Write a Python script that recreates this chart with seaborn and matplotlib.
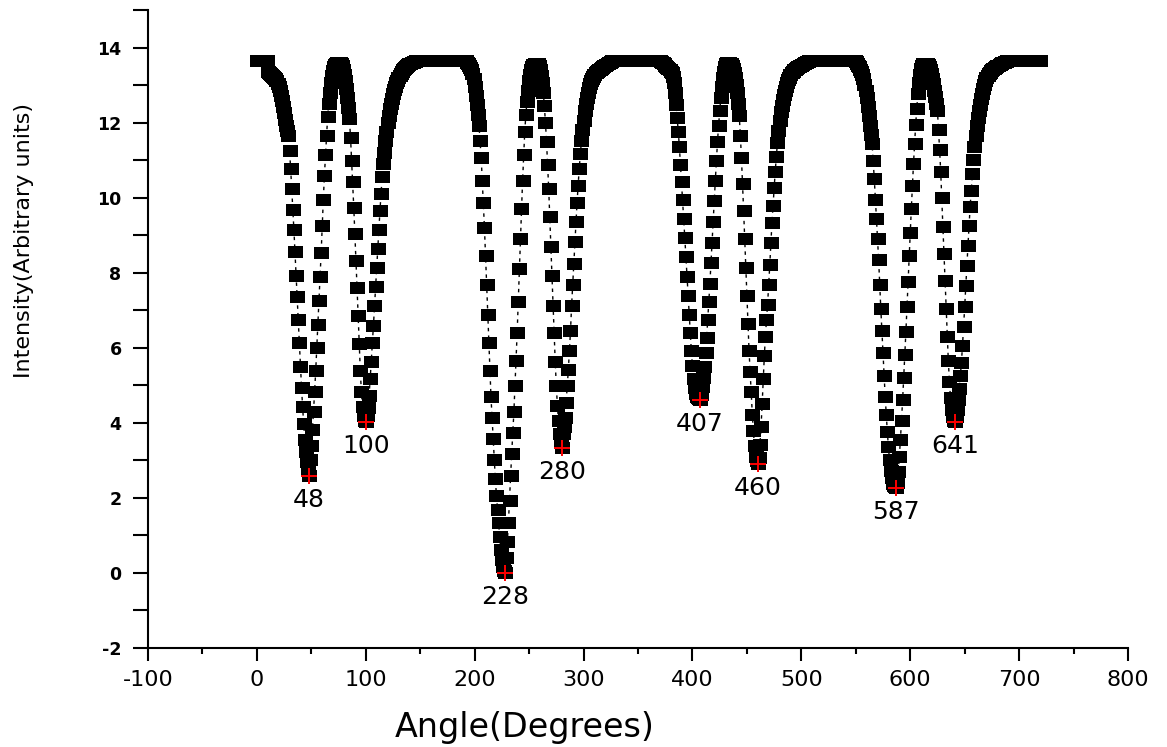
import numpy as np
import pandas as pd
import matplotlib
matplotlib.use("Agg")
import matplotlib.pyplot as plt
import seaborn as sns
from matplotlib.ticker import MultipleLocator

start_a = 0
intensity_a = [
    13.65, 13.65, 13.65, 13.65, 13.65, 13.65, 13.65, 13.65, 13.65, 13.65,  # 0-9
    13.35, 13.33, 13.30, 13.28, 13.25, 13.22, 13.19, 13.15, 13.10,  # 10-18
    13.03, 12.95, 12.85, 12.72, 12.58, 12.42, 12.25, 12.08, 11.92, 11.78,  # 19-28
    11.65, 11.25, 10.77, 10.23, 9.67, 9.14, 8.55, 7.91, 7.35, 6.73,
    6.12, 5.48, 4.94, 4.41, 3.96, 3.53, 3.21, 2.95, 2.72, 2.57,  # 29-48
    3.02, 3.37, 3.82, 4.30, 4.81, 5.37, 5.99, 6.60, 7.24, 7.88,
    8.52, 9.24, 9.94, 10.58, 11.14, 11.65, 12.16,  # 49-65
    12.50, 12.80, 13.05, 13.25, 13.38, 13.47, 13.53, 13.57, 13.59, 13.60,
    13.59, 13.56, 13.50, 13.41, 13.28, 13.10, 12.90, 12.65, 12.38,  # 66-84
    12.09, 11.60, 10.98, 10.42, 9.72, 9.03, 8.31, 7.59, 6.84, 6.09,
    5.37, 4.81, 4.42, 4.18, 4.06, 4.01,  # 85-100
    4.18, 4.40, 4.71, 5.16, 5.61, 6.12, 6.57, 7.10, 7.61, 8.12,
    8.63, 9.14, 9.64, 10.10, 10.55,  # 101-115
    10.90, 11.20, 11.50, 11.75, 11.98, 12.18, 12.35, 12.50, 12.63, 12.75,
    12.86, 12.96, 13.05, 13.12, 13.19, 13.25, 13.30, 13.35, 13.39, 13.42,
    13.45, 13.48, 13.50, 13.53, 13.55, 13.57, 13.59, 13.60, 13.61, 13.62,
    13.63, 13.64,  # 116-147
    13.65, 13.65, 13.65, 13.65, 13.65, 13.65, 13.65, 13.65, 13.65, 13.65, 13.65,
    13.65, 13.65, 13.65, 13.65, 13.65, 13.65, 13.65, 13.65, 13.65, 13.65, 13.65,
    13.65, 13.65, 13.65, 13.65, 13.65, 13.65, 13.65, 13.65, 13.65, 13.65, 13.65,
    13.65, 13.65, 13.65, 13.65, 13.65, 13.65, 13.65, 13.65, 13.65, 13.65, 13.65,  # 148-191
]

start_b = 192
intensity_b = [
    13.63, 13.60, 13.56, 13.51, 13.45, 13.40, 13.30, 13.15, 12.95, 12.72,
    12.47, 12.20,  # 192-203
    11.92, 11.51, 11.06, 10.45, 9.86, 9.19, 8.44, 7.67, 6.87, 6.12,
    5.37, 4.68, 4.12, 3.58, 3.00, 2.49, 2.06, 1.69, 1.34, 0.96,
    0.62, 0.35, 0.15, 0.04, 0.00,  # 204-228
    0.40, 0.83, 1.34, 1.93, 2.57, 3.18, 3.72, 4.28, 4.97, 5.64,
    6.39, 7.21, 8.10, 8.90, 9.70, 10.45, 11.14, 11.76, 12.21,  # 229-247
    12.55, 12.85, 13.10, 13.28, 13.40, 13.48, 13.53, 13.56, 13.57, 13.57,
    13.55, 13.50, 13.40, 13.25, 13.05, 12.80,  # 248-263
    12.45, 12.00, 11.49, 10.87, 10.23, 9.48, 8.68, 7.91, 7.11, 6.39,
    5.61, 4.97, 4.45, 4.05, 3.70, 3.45, 3.34,  # 264-280
    3.69, 3.90, 4.14, 4.54, 4.97, 5.40, 5.91, 6.44, 7.11, 7.67,
    8.23, 8.82, 9.35, 9.86, 10.31, 10.77,  # 281-296
    11.15, 11.50, 11.80, 12.05, 12.30, 12.50, 12.66, 12.80, 12.92, 13.02,
    13.10, 13.17, 13.22, 13.27, 13.31, 13.34, 13.37, 13.39, 13.41, 13.43,
    13.45, 13.47, 13.50, 13.52, 13.54, 13.56, 13.58, 13.60, 13.62, 13.63,
    13.64,  # 297-327
    13.65, 13.65, 13.65, 13.65, 13.65, 13.65, 13.65, 13.65, 13.65, 13.65, 13.65,
    13.65, 13.65, 13.65, 13.65, 13.65, 13.65, 13.65, 13.65, 13.65, 13.65, 13.65,
    13.65, 13.65, 13.65, 13.65, 13.65, 13.65, 13.65, 13.65, 13.65, 13.65, 13.65,
    13.65, 13.65, 13.65, 13.65, 13.65, 13.65, 13.65, 13.65, 13.65,  # 328-369
]

start_c = 370
intensity_c = [
    13.64, 13.62, 13.60, 13.58, 13.55, 13.52, 13.49, 13.46, 13.43, 13.40,
    13.36, 13.32, 13.22, 13.05, 12.80, 12.48, 12.12, 11.75, 11.35,  # 370-388
    10.87, 10.42, 9.94, 9.43, 8.92, 8.42, 7.88, 7.37, 6.87, 6.39,
    5.91, 5.51, 5.16, 4.92, 4.78, 4.70, 4.66, 4.63, 4.62,  # 389-407
    4.75, 4.95, 5.20, 5.50, 5.85, 6.25, 6.73, 7.21, 7.70, 8.26,
    8.79, 9.35, 9.91, 10.45, 10.98, 11.49, 11.92,  # 408-424
    12.30, 12.65, 12.95, 13.18, 13.35, 13.47, 13.55, 13.59, 13.60, 13.59,
    13.55, 13.50, 13.42, 13.32, 13.18, 13.00, 12.78, 12.50,  # 425-442
    12.18, 11.65, 11.06, 10.37, 9.65, 8.90, 8.12, 7.37, 6.63, 5.91,
    5.35, 4.81, 4.22, 3.77, 3.37, 3.10, 2.97, 2.89,  # 443-460
    3.05, 3.42, 3.90, 4.49, 5.16, 5.77, 6.30, 6.75, 7.15, 7.67,
    8.20, 8.79, 9.32, 9.78, 10.26, 10.69, 11.09,  # 461-477
    11.45, 11.78, 12.05, 12.28, 12.45, 12.60, 12.73, 12.85, 12.95, 13.05,
    13.13, 13.20, 13.27, 13.32, 13.36, 13.39, 13.41, 13.43, 13.45, 13.47,
    13.49, 13.50, 13.52, 13.54, 13.56, 13.58, 13.60, 13.61, 13.62, 13.63,
    13.64,  # 478-508
    13.65, 13.65, 13.65, 13.65, 13.65, 13.65, 13.65, 13.65, 13.65, 13.65, 13.65,
    13.65, 13.65, 13.65, 13.65, 13.65, 13.65, 13.65, 13.65, 13.65, 13.65, 13.65,
    13.65, 13.65, 13.65, 13.65, 13.65, 13.65, 13.65, 13.65, 13.65, 13.65, 13.65,
    13.65, 13.65, 13.65, 13.65, 13.65, 13.65, 13.65, 13.65,  # 509-549
]

start_d = 550
intensity_d = [
    13.62, 13.57, 13.52, 13.47, 13.41, 13.34, 13.26, 13.15, 13.01, 12.85,
    12.65, 12.42, 12.18, 11.92, 11.68,  # 550-564
    11.43, 10.98, 10.50, 9.94, 9.43, 8.90, 8.34, 7.67, 7.03, 6.44,
    5.85, 5.25, 4.70, 4.20, 3.75, 3.35, 3.00, 2.72, 2.52, 2.38,
    2.31, 2.28, 2.27,  # 565-587
    2.40, 2.70, 3.10, 3.55, 4.05, 4.60, 5.20, 5.80, 6.41, 7.08,
    7.75, 8.44, 9.06, 9.70, 10.31, 10.90, 11.43, 11.94, 12.37,  # 588-606
    12.75, 13.05, 13.28, 13.42, 13.50, 13.55, 13.57, 13.57, 13.56, 13.53,
    13.48, 13.40, 13.30, 13.17, 13.02, 12.85, 12.68, 12.50,  # 607-624
    12.32, 11.81, 11.27, 10.69, 9.99, 9.22, 8.50, 7.78, 7.03, 6.30,
    5.65, 5.10, 4.65, 4.35, 4.15, 4.05, 4.01,  # 625-641
    4.15, 4.35, 4.60, 4.90, 5.25, 5.60, 6.05, 6.55, 7.08, 7.64,
    8.18, 8.71, 9.24, 9.75, 10.18, 10.63, 11.01,  # 642-658
    11.35, 11.65, 11.90, 12.12, 12.30, 12.47, 12.62, 12.76, 12.89, 13.00,
    13.10, 13.18, 13.24, 13.29, 13.33, 13.37, 13.40, 13.42, 13.44, 13.46,
    13.48, 13.50, 13.52, 13.54, 13.56, 13.58, 13.59, 13.60, 13.61, 13.62,
    13.63, 13.64,  # 659-690
    13.65, 13.65, 13.65, 13.65, 13.65, 13.65, 13.65, 13.65, 13.65, 13.65,
    13.65, 13.65, 13.65, 13.65, 13.65, 13.65, 13.65, 13.65, 13.65, 13.65,
    13.65, 13.65, 13.65, 13.65, 13.65, 13.65, 13.65, 13.65, 13.65,  # 691-719
]

# marked minima
dip_angles = [48, 100, 228, 280, 407, 460, 587, 641]
dip_values = [2.57, 4.01, 0.00, 3.34, 4.62, 2.89, 2.27, 4.01]
dip_labels = ["48", "100", "228", "280", "407", "460", "587", "641"]

blocks = [(start_a, intensity_a), (start_b, intensity_b),
          (start_c, intensity_c), (start_d, intensity_d)]
frames = []
for start, vals in blocks:
    frames.append(pd.DataFrame({"Angle": start + np.arange(len(vals)),
                                "Intensity": vals}))
df = pd.concat(frames, ignore_index=True)
dips = pd.DataFrame({"Angle": dip_angles, "Intensity": dip_values})

sns.set_style("ticks")
plt.rcParams["font.family"] = ["DejaVu Sans"]
plt.rcParams["axes.unicode_minus"] = False
for key in ["text.color", "axes.labelcolor", "xtick.color", "ytick.color",
            "axes.edgecolor"]:
    plt.rcParams[key] = "black"

W, H = 1167, 747
fig = plt.figure(figsize=(W / 100, H / 100), dpi=100)
ax = fig.add_axes([148 / W, 1 - 648 / H, 980 / W, 638 / H])

# wide flat box marker like the original
box = [(-1.25, -1), (1.25, -1), (1.25, 1), (-1.25, 1), (-1.25, -1)]
sns.lineplot(data=df, x="Angle", y="Intensity", ax=ax, estimator=None,
             sort=False, color="black", lw=1.0, linestyle=(0, (2.5, 3)),
             marker=box, markersize=10.8, markeredgewidth=0,
             markerfacecolor="black")
sns.scatterplot(data=dips, x="Angle", y="Intensity", ax=ax, marker="+",
                color="red", s=130, linewidth=1.4, zorder=5)

for a, v, lab in zip(dip_angles, dip_values, dip_labels):
    ax.annotate(lab, (a, v), xytext=(0, -24), textcoords="offset pixels",
                ha="center", va="center", fontsize=18, color="black")

ax.set_xlim(-100, 800)
ax.set_ylim(-2, 15)
ax.xaxis.set_major_locator(MultipleLocator(100))
ax.xaxis.set_minor_locator(MultipleLocator(50))
ax.yaxis.set_major_locator(MultipleLocator(2))
ax.yaxis.set_minor_locator(MultipleLocator(1))

for side in ["top", "right"]:
    ax.spines[side].set_visible(False)
for side in ["left", "bottom"]:
    ax.spines[side].set_linewidth(1.5)
    ax.spines[side].set_color("black")

ax.tick_params(axis="x", which="major", direction="out", length=9, width=1.5,
               pad=7, labelsize=16, colors="black")
ax.tick_params(axis="x", which="minor", direction="out", length=4.5, width=1.5,
               colors="black")
ax.tick_params(axis="y", which="both", direction="out", length=11, width=1.5,
               colors="black")
ax.tick_params(axis="y", which="major", pad=8, labelsize=12.5)
for t in ax.get_yticklabels():
    t.set_fontweight("bold")

ax.set_xlabel("")
ax.set_ylabel("")
fig.text(525 / W, 1 - 737 / H, "Angle(Degrees)", ha="center", va="baseline",
         fontsize=24, color="black")
fig.text(24 / W, 1 - 240 / H, "Intensity(Arbitrary units)", ha="center",
         va="center", rotation=90, fontsize=16, color="black")

fig.savefig("out.png", dpi=100)
